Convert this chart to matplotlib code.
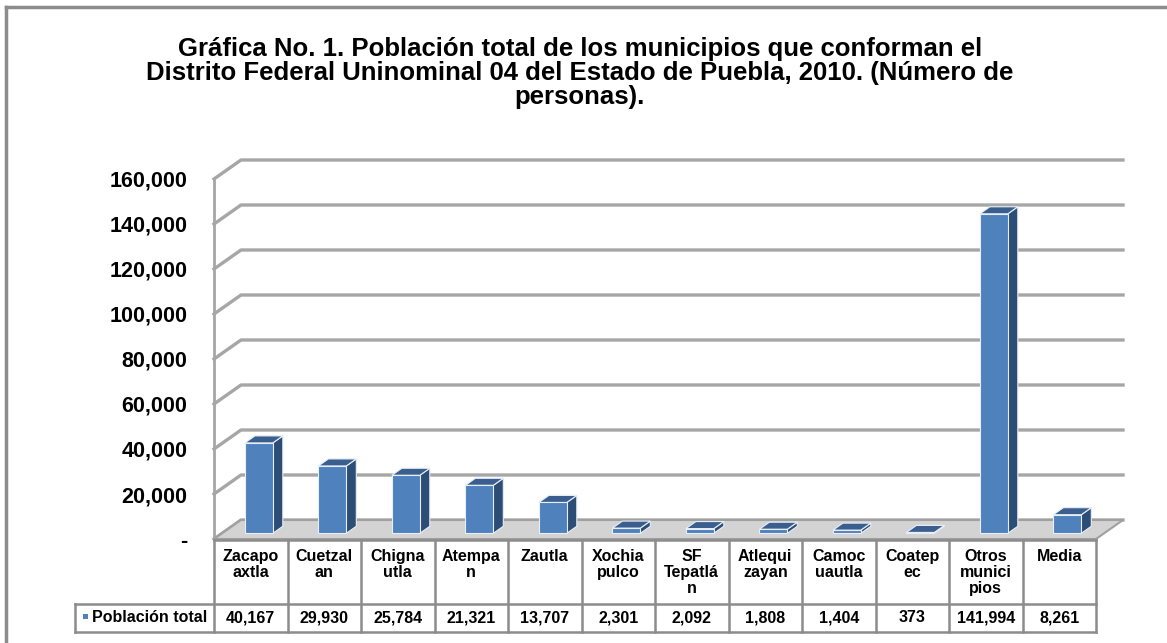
import matplotlib
matplotlib.use("Agg")
import matplotlib.pyplot as plt
from matplotlib.patches import Polygon, Rectangle
from matplotlib.lines import Line2D
from matplotlib import transforms
from matplotlib.ticker import FuncFormatter

# Datos de la gráfica
categorias = ["Zacapo\naxtla", "Cuetzal\nan", "Chigna\nutla", "Atempa\nn", "Zautla",
              "Xochia\npulco", "SF\nTepatlá\nn", "Atlequi\nzayan", "Camoc\nuautla",
              "Coatep\nec", "Otros\nmunici\npios", "Media"]
poblacion = [40167, 29930, 25784, 21321, 13707, 2301, 2092, 1808, 1404, 373, 141994, 8261]
serie = "Población total"
titulo = ("Gráfica No. 1. Población total de los municipios que conforman el\n"
          "Distrito Federal Uninominal 04 del Estado de Puebla, 2010. (Número de\n"
          "personas).")
marcas_y = [0, 20000, 40000, 60000, 80000, 100000, 120000, 140000, 160000]

plt.rcParams['font.family'] = ['Liberation Sans', 'DejaVu Sans']
plt.rcParams['font.weight'] = 'bold'

W, H = 1167, 643
fig = plt.figure(figsize=(W / 100, H / 100), dpi=100)

def fx(p):
    return p / W

def fy(p):
    return 1 - p / H

gris = '#A6A6A6'
gris_tabla = '#8C8C8C'
azul = '#4F81BD'
azul_lado = '#2C4D75'
azul_tapa = '#3A5F8F'

ax = fig.add_axes([fx(214), fy(539), (1096 - 214) / W, 360 / H])
n = len(categorias)
ax.set_xlim(-0.5, n - 0.5)
ax.set_ylim(0, 160000)
for s in ax.spines.values():
    s.set_visible(False)
ax.patch.set_visible(False)
ax.set_xticks([])
ax.set_yticks(marcas_y)
ax.yaxis.set_major_formatter(FuncFormatter(lambda v, p: '-' if v == 0 else f'{int(v):,}'))
ax.tick_params(axis='y', length=0, pad=19, labelsize=15.5)

# profundidad del efecto 3D (pixeles)
DX, DY = 27, 19
ident = transforms.IdentityTransform()

def px(x, v, d):
    X, Y = ax.transData.transform((x, v))
    return (X + d * DX, Y + d * DY)

# cuadricula: pared lateral y pared de fondo
for v in marcas_y:
    pts = [px(-0.5, v, 0), px(-0.5, v, 1), px(n - 0.5, v, 1)]
    ax.add_line(Line2D([p[0] for p in pts], [p[1] for p in pts], transform=ident,
                       color=gris, lw=2.4, clip_on=False, zorder=1))
a, b = px(-0.5, 0, 0), px(-0.5, 160000, 0)
ax.add_line(Line2D([a[0], b[0]], [a[1], b[1]], transform=ident, color=gris,
                   lw=2, clip_on=False, zorder=1))

# piso
piso = [px(-0.5, 0, 0), px(n - 0.5, 0, 0), px(n - 0.5, 0, 1), px(-0.5, 0, 1)]
ax.add_patch(Polygon(piso, closed=True, transform=ident, facecolor='#D3D3D3',
                     edgecolor='#A0A0A0', lw=1.5, clip_on=False, zorder=2))

# barras
ancho = 0.38
d0, d1 = 0.3, 0.67
frente = transforms.offset_copy(ax.transData, fig=fig, x=d0 * DX, y=d0 * DY, units='dots')
for i, v in enumerate(poblacion):
    x0, x1 = i - ancho / 2, i + ancho / 2
    lado = [px(x1, 0, d0), px(x1, v, d0), px(x1, v, d1), px(x1, 0, d1)]
    tapa = [px(x0, v, d0), px(x1, v, d0), px(x1, v, d1), px(x0, v, d1)]
    ax.add_patch(Polygon(lado, closed=True, transform=ident, facecolor=azul_lado,
                         edgecolor='#E8EEF6', lw=0.8, clip_on=False, zorder=3 + i))
    ax.add_patch(Polygon(tapa, closed=True, transform=ident, facecolor=azul_tapa,
                         edgecolor='#E8EEF6', lw=0.8, clip_on=False, zorder=3 + i))
ax.bar(range(n), poblacion, width=ancho, color=azul, edgecolor='#E8EEF6', lw=0.8,
       transform=frente, clip_on=False, zorder=20)
ax.set_xlim(-0.5, n - 0.5)
ax.set_ylim(0, 160000)

# tabla de datos
y_top, y_mid, y_bot = H - 540, H - 604, H - 632
xs = [px(i - 0.5, 0, 0)[0] for i in range(n + 1)]
def linea(xa, ya, xb, yb):
    fig.add_artist(Line2D([xa, xb], [ya, yb], transform=ident, color=gris_tabla,
                          lw=1.8, zorder=30))
linea(xs[0], y_top, xs[-1], y_top)
linea(75, y_mid, xs[-1], y_mid)
linea(75, y_bot, xs[-1], y_bot)
linea(75, y_mid, 75, y_bot)
for xv in xs:
    linea(xv, y_top, xv, y_bot)
for i, (c, v) in enumerate(zip(categorias, poblacion)):
    xc = (xs[i] + xs[i + 1]) / 2
    fig.text(xc / W, (H - 549) / H, c, ha='center', va='top', fontsize=11.5,
             linespacing=1.1)
    fig.text(xc / W, (y_mid + y_bot) / 2 / H, f'{v:,}', ha='center', va='center',
             fontsize=11.5)
fig.add_artist(Rectangle((83 / W, (H - 619) / H), 5 / W, 5 / H, transform=fig.transFigure,
                         facecolor=azul, edgecolor='none'))
fig.text(92 / W, (y_mid + y_bot) / 2 / H, serie, ha='left', va='center', fontsize=11.5)

# marco exterior
fig.add_artist(Line2D([6, 6], [0, H - 7], transform=ident, color=gris_tabla, lw=2.5))
fig.add_artist(Line2D([6, W], [H - 7, H - 7], transform=ident, color=gris_tabla, lw=2.5))

# titulo
fig.text(580 / W, fy(73), titulo, ha='center', va='center', fontsize=18.5, linespacing=1.0)

fig.savefig('out.png', dpi=100)
